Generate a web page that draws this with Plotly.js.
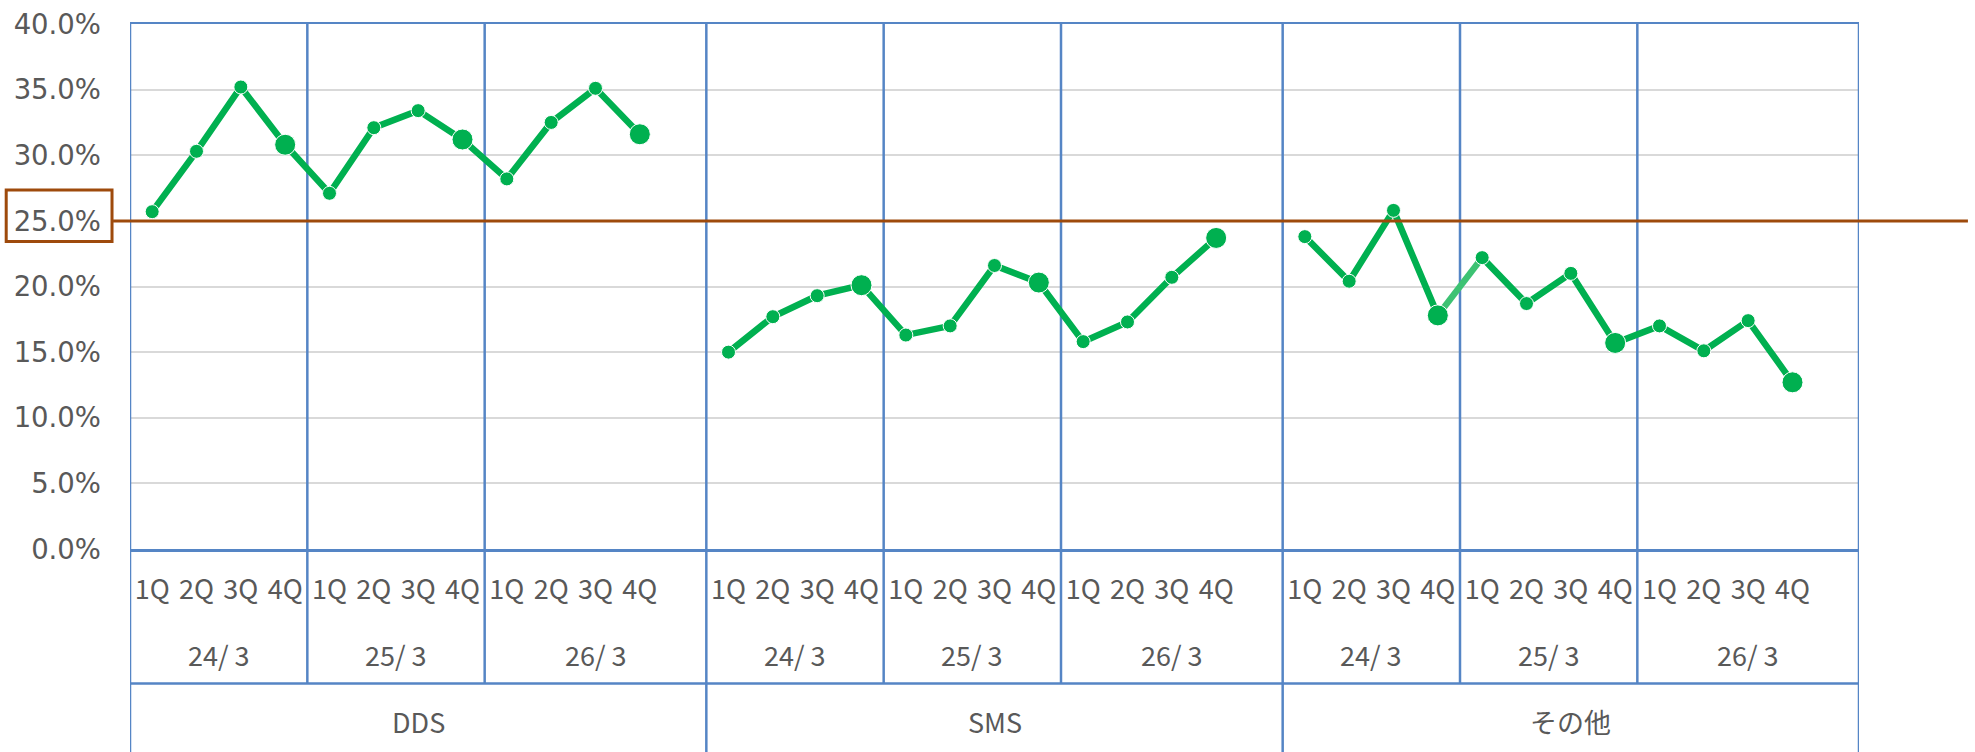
<!DOCTYPE html>
<html>
<head>
<meta charset="utf-8">
<script src="https://cdn.plot.ly/plotly-3.0.1.min.js"></script>
<style>
  html, body { margin: 0; padding: 0; background: #fff; }
  #chart { width: 1975px; height: 752px; }
</style>
</head>
<body>
<div id="chart"></div>
<script>
// --- data ---
const segments = ['DDS', 'SMS', 'その他'];
const years = ['24/ 3', '25/ 3', '26/ 3'];
const quarters = ['1Q', '2Q', '3Q', '4Q'];

const ddsRatio   = [25.7, 30.3, 35.2, 30.8, 27.1, 32.1, 33.4, 31.2, 28.2, 32.5, 35.1, 31.6];
const smsRatio   = [15.0, 17.7, 19.3, 20.1, 16.3, 17.0, 21.6, 20.3, 15.8, 17.3, 20.7, 23.7];
const otherRatio = [23.8, 20.4, 25.8, 17.8, 22.2, 18.7, 21.0, 15.7, 17.0, 15.1, 17.4, 12.7];

const targetLine = 25.0;

// --- styling ---
const GREEN = '#00B050';
const GREEN_LIGHT = '#3DC273';
const BLUE = '#5585C5';
const ORANGE = '#9E4A0C';
const TEXT = '#595959';

const seriesList = [ddsRatio, smsRatio, otherRatio];
const slotsPerSeg = years.length * quarters.length + 1;   // one blank slot after each segment
const nSlots = segments.length * slotsPerSeg;

// x positions for each point
const xOf = (s, i) => s * slotsPerSeg + i;

const traces = [];

// lines (その他 breaks between 24/3 4Q and 25/3 1Q, drawn lighter)
seriesList.forEach((vals, s) => {
    const xs = [], ys = [];
    vals.forEach((v, i) => {
        if (s === 2 && i === 4) { xs.push(null); ys.push(null); }
        xs.push(xOf(s, i)); ys.push(v);
    });
    traces.push({
        x: xs, y: ys, type: 'scatter', mode: 'lines',
        line: { color: GREEN, width: 6.5 }, hoverinfo: 'skip', showlegend: false
    });
});
traces.push({
    x: [xOf(2, 3), xOf(2, 4)], y: [otherRatio[3], otherRatio[4]],
    type: 'scatter', mode: 'lines',
    line: { color: GREEN_LIGHT, width: 6.5 }, hoverinfo: 'skip', showlegend: false
});

// markers, 4Q bigger
seriesList.forEach((vals, s) => {
    traces.push({
        x: vals.map((v, i) => xOf(s, i)), y: vals,
        type: 'scatter', mode: 'markers',
        marker: { color: GREEN, opacity: 1, size: vals.map((v, i) => (i % 4 === 3 ? 21 : 14)) },
        showlegend: false
    });
});

// tick labels (quarters)
const tickvals = [], ticktext = [];
segments.forEach((seg, s) => {
    years.forEach((yr, y) => {
        quarters.forEach((q, k) => {
            tickvals.push(xOf(s, y * 4 + k));
            ticktext.push(q);
        });
    });
});

// table lines + labels below the plot
const shapes = [];
const annotations = [];
const tableMid = -0.256;
const tableBottom = -0.40;

segments.forEach((seg, s) => {
    const segStart = xOf(s, 0) - 0.5;
    const segEnd = xOf(s, slotsPerSeg - 1) + 0.5;
    years.forEach((yr, y) => {
        const x0 = y === 0 ? segStart : xOf(s, y * 4) - 0.5;
        const x1 = y === years.length - 1 ? segEnd : xOf(s, y * 4 + 4) - 0.5;
        annotations.push({
            x: (x0 + x1) / 2, xref: 'x', y: -0.201, yref: 'paper',
            text: yr, showarrow: false, yanchor: 'middle',
            font: { family: 'Noto Sans CJK JP', size: 27, color: TEXT }
        });
        if (y > 0) {
            shapes.push({ type: 'line', xref: 'x', yref: 'y', x0: x0, x1: x0, y0: 0, y1: 40,
                layer: 'between', line: { color: BLUE, width: 2.5 } });
            shapes.push({ type: 'line', xref: 'x', yref: 'paper', x0: x0, x1: x0, y0: 0, y1: tableMid,
                layer: 'below', line: { color: BLUE, width: 2.5 } });
        }
    });
    annotations.push({
        x: (segStart + segEnd) / 2, xref: 'x', y: -0.328, yref: 'paper',
        text: seg, showarrow: false, yanchor: 'middle',
        font: { family: 'Noto Sans CJK JP', size: 27, color: TEXT }
    });
    [segStart].concat(s === segments.length - 1 ? [segEnd] : []).forEach(xv => {
        shapes.push({ type: 'line', xref: 'x', yref: 'y', x0: xv, x1: xv, y0: 0, y1: 40,
            layer: 'between', line: { color: BLUE, width: 2.5 } });
        shapes.push({ type: 'line', xref: 'x', yref: 'paper', x0: xv, x1: xv, y0: 0, y1: tableBottom,
            layer: 'below', line: { color: BLUE, width: 2.5 } });
    });
});

shapes.push({ type: 'line', xref: 'paper', yref: 'paper', x0: 0, x1: 1, y0: tableMid, y1: tableMid,
    layer: 'below', line: { color: BLUE, width: 2.5 } });

// 25% target line and its box
shapes.push({ type: 'line', xref: 'paper', yref: 'y', x0: -0.0098, x1: 1.063, y0: targetLine, y1: targetLine,
    layer: 'above', line: { color: ORANGE, width: 3 } });
shapes.push({ type: 'rect', xref: 'paper', yref: 'paper', x0: -0.0716, x1: -0.0104, y0: 0.5857, y1: 0.684,
    layer: 'above', line: { color: ORANGE, width: 3 } });

const layout = {
    width: 1975, height: 752,
    margin: { l: 130, r: 116, t: 24, b: 202.5 },
    paper_bgcolor: '#fff', plot_bgcolor: '#fff',
    showlegend: false,
    xaxis: {
        range: [-0.5, nSlots - 0.5],
        tickvals: tickvals, ticktext: ticktext, tickangle: 0,
        showgrid: false, zeroline: false,
        showline: true, mirror: true, linecolor: BLUE, linewidth: 2.5,
        ticks: '', ticklabelstandoff: 15,
        tickfont: { family: 'Noto Sans CJK JP', size: 27, color: TEXT }
    },
    yaxis: {
        range: [0, 40], dtick: 5, tickformat: '.1f', ticksuffix: '%',
        showgrid: true, gridcolor: '#D9D9D9', gridwidth: 2,
        zeroline: false, showline: false, ticks: '', ticklabelstandoff: 28,
        tickfont: { family: 'DejaVu Sans', size: 27.5, color: TEXT }
    },
    shapes: shapes,
    annotations: annotations
};

Plotly.newPlot('chart', traces, layout, { displayModeBar: false, staticPlot: true });
</script>
</body>
</html>
